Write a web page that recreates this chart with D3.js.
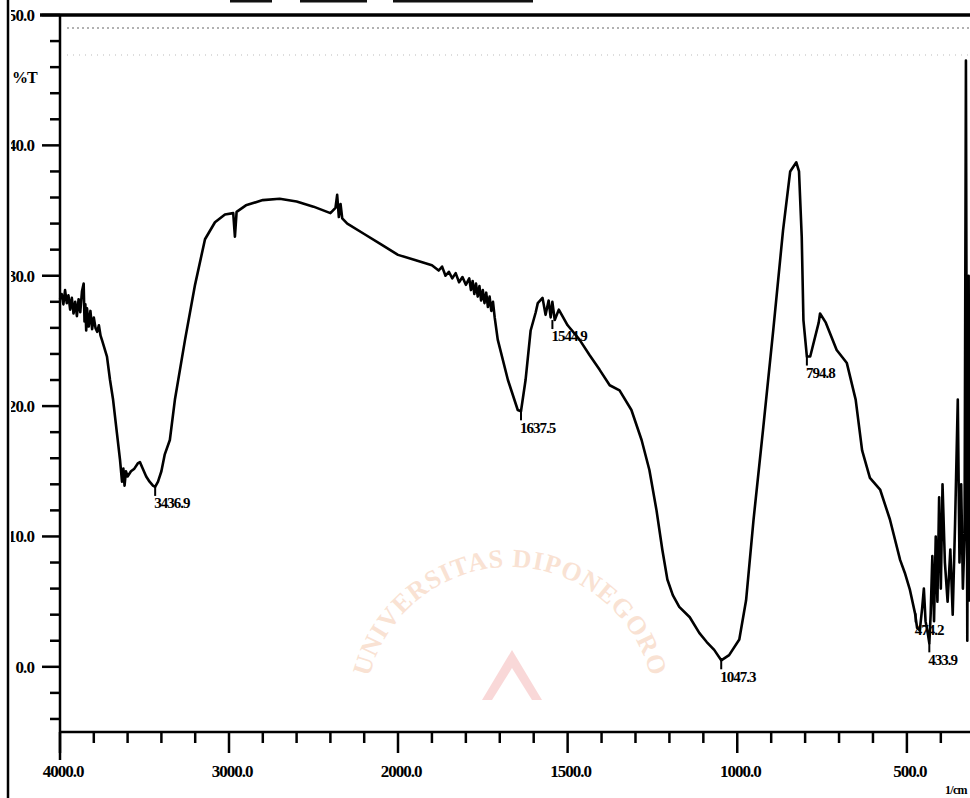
<!DOCTYPE html>
<html>
<head>
<meta charset="utf-8">
<script src="https://cdn.jsdelivr.net/npm/d3@7"></script>
<style>
  html, body { margin: 0; padding: 0; background: #fff; }
  svg { display: block; }
  text { font-family: "Liberation Serif", "DejaVu Serif", serif; font-weight: bold; fill: #000; }
</style>
</head>
<body>
<svg id="chart"></svg>
<script>
// FTIR spectrum, wavenumber (1/cm) vs %T
const wavenumbers = [
  4000, 3990, 3980, 3970, 3960, 3950, 3940, 3930, 3920, 3910, 3900, 3890, 3880, 3870, 3860, 3855,
  3850, 3845, 3840, 3830, 3820, 3810, 3800, 3790, 3780, 3770, 3760, 3750, 3722, 3704, 3686, 3663,
  3645, 3633, 3625, 3618, 3610, 3600, 3580, 3560, 3540, 3527, 3510, 3490, 3470, 3450, 3437, 3420,
  3400, 3380, 3350, 3320, 3260, 3201, 3142, 3083, 3024, 2975, 2965, 2955, 2900, 2800, 2700, 2600,
  2500, 2400, 2370, 2360, 2350, 2340, 2330, 2300, 2200, 2100, 2000, 1950, 1900, 1880, 1870, 1860,
  1850, 1840, 1830, 1820, 1810, 1800, 1790, 1785, 1780, 1775, 1770, 1765, 1760, 1755, 1750, 1745,
  1740, 1735, 1730, 1725, 1720, 1715, 1706, 1676, 1647, 1637.5, 1624, 1609, 1594, 1588, 1574,
  1565, 1556, 1550, 1545, 1538, 1526, 1500, 1465, 1435, 1406, 1376, 1347, 1312, 1282, 1259, 1238,
  1221, 1206, 1190, 1171, 1140, 1112, 1090, 1068, 1047.3, 1024, 994, 974, 952, 924, 894, 865,
  844, 826, 818, 810, 805, 794.8, 785, 760, 756, 739, 707, 677, 651, 632, 609, 579,
  550, 520, 506, 491, 476, 470, 462, 455, 450, 445, 438, 433.9, 430, 425, 420, 415,
  410, 405, 400, 395, 388, 380, 372, 365, 358, 350, 345, 340, 335, 330, 326, 322,
  318, 315
];
const transmittance = [
  28.2, 28.6, 27.8, 28.9, 27.9, 28.5, 27.4, 28.3, 27.1, 28.0, 26.9, 28.2, 27.2, 28.8, 29.4, 26.5,
  27.8, 25.8, 27.5, 26.1, 27.3, 25.9, 26.8, 26.0, 25.7, 26.2, 25.4, 25.0, 23.8, 22.0, 20.5, 17.9,
  15.9, 14.2, 15.2, 13.9, 15.0, 14.6, 15.0, 15.2, 15.6, 15.7, 15.2, 14.6, 14.2, 13.9, 13.8, 14.2,
  15.0, 16.3, 17.4, 20.5, 25.1, 29.3, 32.8, 34.1, 34.7, 34.8, 33.0, 34.9, 35.4, 35.8, 35.9, 35.7,
  35.3, 34.8, 35.2, 36.2, 34.5, 35.5, 34.4, 34.0, 33.2, 32.4, 31.6, 31.2, 30.8, 30.4, 30.7, 30.0,
  30.3, 29.8, 30.2, 29.5, 29.9, 29.3, 29.8, 28.9, 29.6, 28.6, 29.4, 28.4, 29.2, 28.1, 28.9, 27.9,
  28.7, 27.6, 28.4, 27.3, 28.0, 26.8, 25.1, 22.0, 19.7, 19.6, 22.0, 25.8, 27.2, 27.9, 28.3,
  27.0, 28.1, 26.8, 28.0, 26.6, 27.4, 26.2, 25.1, 23.9, 22.8, 21.6, 21.2, 19.7, 17.4, 15.1, 12.0,
  9.0, 6.7, 5.5, 4.6, 3.8, 2.6, 1.9, 1.3, 0.5, 0.9, 2.1, 5.1, 11.3, 18.2, 25.8, 33.5,
  38.0, 38.7, 38.0, 33.0, 26.6, 23.8, 23.8, 26.4, 27.1, 26.4, 24.3, 23.3, 20.5, 16.6, 14.5, 13.6,
  11.3, 8.2, 7.2, 5.9, 4.1, 3.0, 2.8, 4.5, 6.0, 3.5, 2.5, 1.8, 4.0, 8.5, 3.5, 10.0,
  5.0, 13.0, 6.0, 14.0, 8.0, 5.0, 9.0, 4.0, 11.0, 20.5, 8.0, 14.0, 6.0, 10.0, 46.5, 2.0,
  30.0, 5.0
];

// labelled peaks
const peakLabels = ["3436.9", "1637.5", "1544.9", "1047.3", "794.8", "474.2", "433.9"];
const peakWavenumbers = [3436.9, 1637.5, 1544.9, 1047.3, 794.8, 474.2, 433.9];
const peakTransmittance = [13.8, 19.6, 26.6, 0.5, 23.8, 4.1, 1.8];

// axes
const xMajorTicks = [4000, 3000, 2000, 1500, 1000, 500];
const xTickLabels = ["4000.0", "3000.0", "2000.0", "1500.0", "1000.0", "500.0"];
const xMinorTicks = [3800, 3600, 3400, 3200, 2800, 2600, 2400, 2200,
  1900, 1800, 1700, 1600, 1400, 1300, 1200, 1100, 900, 800, 700, 600, 400];
const yMajorTicks = [0, 10, 20, 30, 40, 50];
const yTickLabels = ["0.0", "10.0", "20.0", "30.0", "40.0", "50.0"];
const yMinorTicks = [-4, -2, 2, 4, 6, 8, 12, 14, 16, 18, 22, 24, 26, 28, 32, 34, 36, 38, 42, 44, 46, 48];

const width = 970;
const height = 798;

const svg = d3.select("#chart")
    .attr("width", width)
    .attr("height", height);

// the instrument scale changes at 2000 1/cm
const x = d3.scaleLinear()
    .domain([4000, 2000, 314])
    .range([60, 398, 970]);

const y = d3.scaleLinear()
    .domain([-5, 50])
    .range([732, 15]);

// the scan cuts the first digit of the y labels
svg.append("clipPath")
    .attr("id", "scan-edge")
  .append("rect")
    .attr("x", 11).attr("y", 0)
    .attr("width", width).attr("height", height);

// faint library stamp behind the plot
const stamp = svg.append("g").attr("opacity", 0.3);

stamp.append("path")
    .attr("id", "stamp-arc")
    .attr("d", d3.arc()({innerRadius: 145, outerRadius: 145, startAngle: -Math.PI * 0.44, endAngle: Math.PI * 0.44}))
    .attr("transform", "translate(510,712)")
    .attr("fill", "none");

stamp.append("text")
    .attr("font-size", 26)
    .attr("letter-spacing", 1)
    .style("fill", "#eea070")
  .append("textPath")
    .attr("href", "#stamp-arc")
    .attr("startOffset", "1%")
    .text("UNIVERSITAS DIPONEGORO");

stamp.append("path")
    .attr("d", "M482,700 L512,650 L542,700 L532,700 L512,668 L492,700 Z")
    .attr("fill", "#ee8080");

// scraps of the cut-off header
svg.selectAll(".scrap")
    .data([[230, 42], [300, 67], [393, 140]])
  .enter().append("rect")
    .attr("x", d => d[0])
    .attr("y", 0)
    .attr("width", d => d[1])
    .attr("height", 2.5)
    .attr("fill", "#111");

// top frame and dotted lines below it
svg.append("line")
    .attr("x1", 40).attr("x2", width)
    .attr("y1", 15).attr("y2", 15)
    .attr("stroke", "#000")
    .attr("stroke-width", 3.5);

svg.append("line")
    .attr("x1", 67).attr("x2", width)
    .attr("y1", 28).attr("y2", 28)
    .attr("stroke", "#666")
    .attr("stroke-width", 1.2)
    .attr("stroke-dasharray", "2,3");

svg.append("line")
    .attr("x1", 67).attr("x2", width)
    .attr("y1", 55).attr("y2", 55)
    .attr("stroke", "#bbb")
    .attr("stroke-width", 1)
    .attr("stroke-dasharray", "1,5");

// y axis
svg.append("line")
    .attr("x1", 60).attr("x2", 60)
    .attr("y1", 15).attr("y2", 760)
    .attr("stroke", "#000")
    .attr("stroke-width", 2.5);

svg.selectAll(".ymajor")
    .data(yMajorTicks)
  .enter().append("line")
    .attr("x1", 42).attr("x2", 60)
    .attr("y1", d => y(d)).attr("y2", d => y(d))
    .attr("stroke", "#000")
    .attr("stroke-width", 2.5);

svg.selectAll(".yminor")
    .data(yMinorTicks)
  .enter().append("line")
    .attr("x1", 50).attr("x2", 60)
    .attr("y1", d => y(d)).attr("y2", d => y(d))
    .attr("stroke", "#000")
    .attr("stroke-width", 2.5);

svg.append("g")
    .attr("clip-path", "url(#scan-edge)")
  .selectAll("text")
    .data(yMajorTicks)
  .enter().append("text")
    .attr("x", 34)
    .attr("y", d => y(d))
    .attr("dy", "0.35em")
    .attr("text-anchor", "end")
    .attr("font-size", 17)
    .attr("letter-spacing", -0.9)
    .text((d, i) => yTickLabels[i]);

svg.append("text")
    .attr("x", 12)
    .attr("y", 83)
    .attr("font-size", 16)
    .attr("letter-spacing", -1)
    .text("%T");

svg.append("line")
    .attr("x1", 8).attr("x2", 8)
    .attr("y1", 0).attr("y2", height)
    .attr("stroke", "#000")
    .attr("stroke-width", 2.5);

// x axis
svg.append("line")
    .attr("x1", 60).attr("x2", width)
    .attr("y1", 732).attr("y2", 732)
    .attr("stroke", "#000")
    .attr("stroke-width", 2.5);

svg.selectAll(".xmajor")
    .data(xMajorTicks)
  .enter().append("line")
    .attr("x1", d => x(d)).attr("x2", d => x(d))
    .attr("y1", 732).attr("y2", 753)
    .attr("stroke", "#000")
    .attr("stroke-width", 2.5);

svg.selectAll(".xminor")
    .data(xMinorTicks)
  .enter().append("line")
    .attr("x1", d => x(d)).attr("x2", d => x(d))
    .attr("y1", 732).attr("y2", 743)
    .attr("stroke", "#000")
    .attr("stroke-width", 2.5);

svg.selectAll(".xlabel")
    .data(xMajorTicks)
  .enter().append("text")
    .attr("x", d => x(d) + 3)
    .attr("y", 771)
    .attr("dy", "0.35em")
    .attr("text-anchor", "middle")
    .attr("font-size", 17)
    .attr("letter-spacing", -1)
    .text((d, i) => xTickLabels[i]);

svg.append("text")
    .attr("x", 945)
    .attr("y", 794)
    .attr("font-size", 12)
    .attr("letter-spacing", -0.7)
    .text("1/cm");

// spectrum
const spectrum = wavenumbers.map((w, i) => [w, transmittance[i]]);

const line = d3.line()
    .x(d => x(d[0]))
    .y(d => y(d[1]));

svg.append("path")
    .datum(spectrum)
    .attr("d", line)
    .attr("fill", "none")
    .attr("stroke", "#000")
    .attr("stroke-width", 2.6)
    .attr("stroke-linejoin", "round");

// peak markers
const peaks = peakLabels.map((label, i) => ({label: label, w: peakWavenumbers[i], t: peakTransmittance[i]}));

svg.selectAll(".peakline")
    .data(peaks)
  .enter().append("line")
    .attr("x1", d => x(d.w)).attr("x2", d => x(d.w))
    .attr("y1", d => y(d.t)).attr("y2", d => y(d.t) + 9)
    .attr("stroke", "#000")
    .attr("stroke-width", 2);

svg.selectAll(".peaklabel")
    .data(peaks)
  .enter().append("text")
    .attr("x", d => x(d.w) - 1)
    .attr("y", d => y(d.t) + 16)
    .attr("dy", "0.35em")
    .attr("font-size", 15)
    .attr("letter-spacing", -1)
    .text(d => d.label);
</script>
</body>
</html>
